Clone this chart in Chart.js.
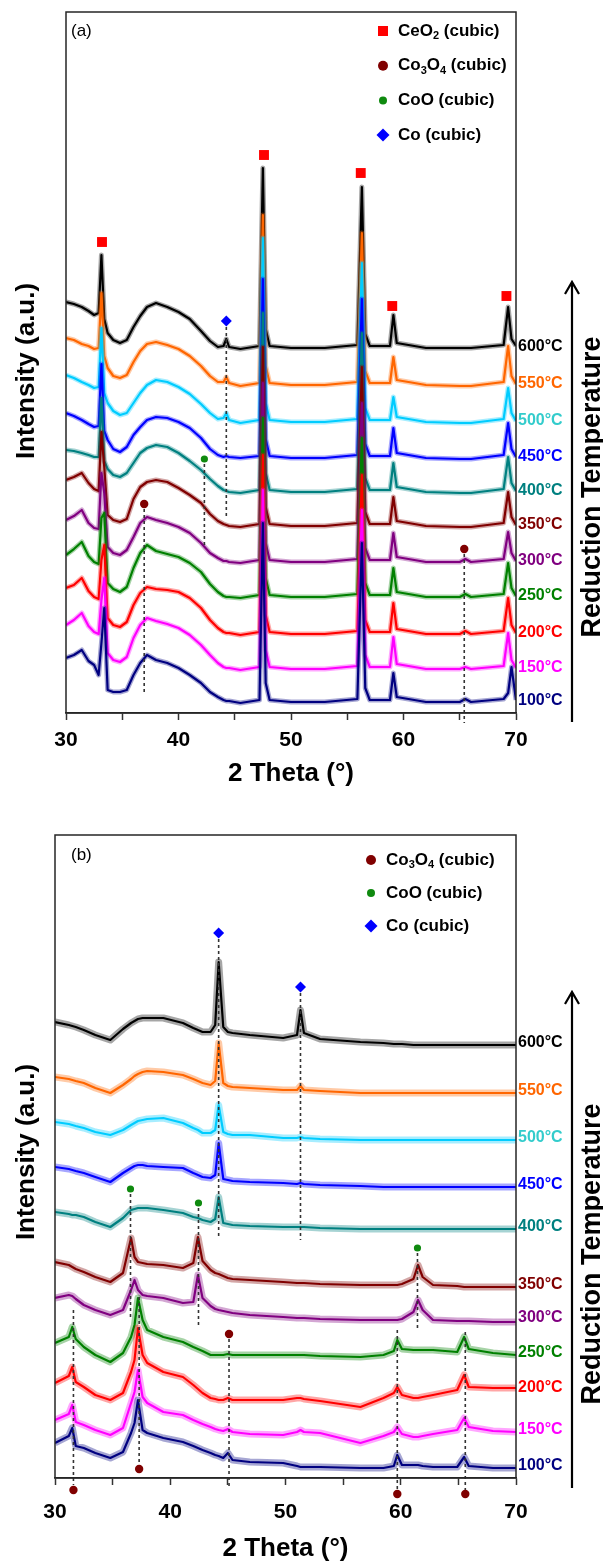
<!DOCTYPE html>
<html>
<head>
<meta charset="utf-8">
<script src="https://cdn.jsdelivr.net/npm/chart.js@4.4.1/dist/chart.umd.min.js"></script>
<style>
  html, body { margin: 0; padding: 0; background: #fff; }
  canvas { position: absolute; left: 0; }
</style>
</head>
<body>
<canvas id="chartA" width="603" height="790" style="top:0"></canvas>
<canvas id="chartB" width="603" height="771" style="top:790px"></canvas>
<script>
// 2 theta sampling for each panel
const thetaA = [30, 30.7, 31.4, 32, 32.5, 32.9, 33.15, 33.4, 33.7, 34.2, 34.8, 35.4, 36, 36.6, 37.2, 38, 39, 40, 41, 42, 42.8, 43.5, 44, 44.25, 44.5, 45.5,
                47.2, 47.5, 47.75, 48.1, 50, 53, 55.9, 56.3, 56.6, 57, 58.8, 59.1, 59.4, 62, 65, 65.5, 66, 68.9, 69.3, 69.6, 70];
const thetaB = [30, 31.2, 31.5, 31.8, 32.5, 33.5, 34.8, 35.9, 36.6, 36.9, 37.2, 37.6, 38, 39.4, 41.1, 42, 42.4, 42.8, 43.5, 43.9, 44.2, 44.6,
                45, 45.4, 46.9, 49.8, 51, 51.3, 51.6, 53, 56.5, 58.5, 59.4, 59.7, 60.1, 61.1, 61.5, 61.9, 62.8, 64.9, 65.5, 65.9, 68, 70];

const temps = ['600°C', '550°C', '500°C', '450°C', '400°C', '350°C', '300°C', '250°C', '200°C', '150°C', '100°C'];

// vertical stacking offsets (a.u.)
const offsetsA = [364, 327, 290, 254, 220, 186, 150, 115, 78, 43, 10];
const offsetsB = [433, 385, 338, 291, 249, 191, 158, 123, 88, 46, 10];

// panel (a) intensities above each offset
const a600 = [47, 45, 42, 38, 34, 36, 94, 30, 16, 9, 6, 9, 22, 33, 42, 46, 42, 37, 30, 18, 8, 2, 3, 10, 2, 0,
              3, 181, 20, 3, 1, 1, 4, 162, 15, 3, 3, 34, 6, 1, 1, 1, 1, 4, 42, 10, 3];
const a550 = [48, 46, 42, 40, 37, 38, 93, 30, 18, 10, 8, 11, 24, 35, 42, 44, 41, 37, 30, 20, 10, 4, 4, 9, 3, 0,
              3, 171, 20, 3, 1, 1, 4, 153, 15, 3, 3, 29, 6, 1, 0, 0, 0, 4, 40, 10, 2];
const a500 = [48, 45, 41, 38, 35, 36, 95, 30, 20, 12, 8, 10, 20, 30, 38, 43, 41, 36, 29, 19, 10, 4, 5, 10, 3, 0,
              3, 185, 20, 3, 1, 1, 4, 160, 15, 3, 3, 26, 6, 1, 0, 0, 0, 4, 35, 10, 2];
const a450 = [46, 43, 39, 35, 32, 33, 95, 28, 19, 10, 7, 12, 24, 32, 39, 42, 41, 37, 31, 21, 10, 4, 2, 3, 2, 1,
              3, 180, 20, 3, 1, 1, 4, 160, 15, 3, 3, 31, 6, 1, 0, 0, 0, 4, 36, 10, 2];
const a400 = [43, 42, 40, 38, 36, 36, 95, 32, 24, 18, 16, 20, 30, 40, 45, 48, 46, 40, 32, 23, 14, 7, 3, 2, 1, 0,
              3, 180, 20, 3, 1, 1, 4, 160, 15, 3, 3, 30, 6, 1, 0, 0, 0, 4, 36, 10, 2];
const a350 = [47, 50, 54, 44, 38, 36, 95, 60, 12, 7, 5, 8, 28, 40, 45, 47, 45, 39, 32, 24, 13, 6, 3, 2, 1, 0,
              3, 180, 20, 3, 1, 1, 4, 160, 15, 3, 3, 30, 6, 1, 0, 0, 0, 4, 35, 10, 2];
const a300 = [43, 47, 53, 40, 35, 34, 90, 70, 16, 10, 8, 13, 26, 40, 46, 43, 40, 36, 30, 20, 10, 5, 2, 2, 1, 0,
              3, 180, 20, 3, 1, 1, 4, 160, 15, 3, 3, 30, 6, 1, 1, 4, 1, 4, 31, 10, 2];
const a250 = [43, 49, 56, 42, 36, 34, 80, 85, 15, 9, 6, 11, 30, 45, 53, 47, 44, 41, 35, 26, 14, 6, 2, 1, 1, 0,
              3, 180, 20, 3, 1, 1, 4, 160, 15, 3, 3, 30, 6, 1, 1, 4, 1, 4, 35, 10, 2];
const a200 = [47, 50, 57, 44, 38, 36, 75, 90, 17, 10, 8, 13, 30, 42, 48, 46, 45, 43, 37, 27, 15, 7, 3, 2, 2, 0,
              3, 180, 20, 3, 1, 1, 4, 160, 15, 3, 3, 32, 6, 1, 1, 4, 1, 4, 37, 10, 2];
const a150 = [45, 50, 57, 44, 38, 36, 70, 92, 17, 10, 8, 13, 32, 45, 52, 49, 46, 42, 35, 25, 15, 7, 3, 2, 2, 0,
              3, 180, 20, 3, 1, 1, 4, 160, 15, 3, 3, 33, 6, 1, 1, 3, 1, 4, 37, 10, 2];
const a100 = [45, 48, 53, 42, 38, 28, 60, 95, 13, 11, 11, 13, 28, 40, 48, 43, 40, 35, 28, 20, 11, 6, 3, 2, 2, 0,
              3, 180, 20, 3, 1, 1, 4, 160, 15, 3, 3, 30, 6, 1, 1, 4, 1, 4, 10, 36, 3];

// panel (b) intensities above each offset
const b600 = [23, 20, 19, 18, 15, 10, 5, 16, 22, 24, 26, 27, 27, 27, 22, 17, 15, 13, 13, 20, 83, 18,
              13, 12, 10, 7, 10, 35, 12, 6, 3, 2, 1, 1, 1, 0, 0, 0, 0, 0, 0, 0, 0, 0];
const b550 = [16, 14, 13, 12, 10, 5, 0, 8, 14, 17, 19, 21, 22, 21, 18, 14, 12, 10, 8, 12, 50, 10,
              7, 6, 5, 3, 3, 7, 3, 2, 0, 0, 0, 0, 0, 0, 0, 0, 0, 0, 0, 0, 0, 0];
const b500 = [18, 16, 15, 14, 12, 8, 5, 10, 15, 17, 19, 20, 21, 22, 17, 12, 10, 7, 7, 10, 35, 8,
              6, 5, 5, 2, 2, 3, 2, 1, 0, 0, 0, 0, 0, 0, 0, 0, 0, 0, 0, 0, 0, 0];
const b450 = [20, 18, 17, 16, 14, 10, 5, 14, 19, 21, 22, 22, 21, 20, 19, 14, 12, 10, 9, 12, 44, 8,
              7, 6, 5, 4, 3, 4, 3, 2, 1, 0, 0, 0, 0, 0, 0, 0, 0, 0, 0, 0, 0, 0];
const b400 = [17, 15, 14, 14, 12, 7, 2, 11, 19, 20, 21, 21, 21, 19, 16, 12, 11, 9, 7, 10, 32, 6,
              5, 4, 3, 2, 2, 2, 2, 1, 0, 0, 0, 0, 0, 0, 0, 0, 0, 0, 0, 0, 0, 0];
const b350 = [25, 22, 20, 18, 15, 10, 5, 14, 49, 30, 25, 24, 23, 22, 19, 24, 50, 26, 17, 14, 13, 11,
              9, 8, 7, 5, 4, 4, 4, 3, 2, 2, 2, 2, 3, 8, 22, 10, 2, 1, 0, 0, 0, 0];
const b300 = [22, 25, 24, 21, 15, 10, 5, 10, 30, 40, 30, 25, 24, 22, 17, 18, 45, 22, 14, 11, 10, 9,
              8, 7, 5, 3, 2, 2, 2, 1, 0, 0, 0, 0, 1, 8, 20, 10, 0, -1, -1, -1, -2, -2];
const b250 = [12, 18, 28, 16, 8, 0, -7, 2, 18, 30, 57, 35, 25, 18, 13, 8, 6, 4, 0, 0, 0, 0,
              1, 0, 0, 0, 0, 0, 0, -1, -2, 0, 4, 15, 6, 5, 5, 5, 5, 3, 18, 6, 2, 0];
const b200 = [7, 14, 23, 8, 3, -5, -10, -3, 18, 30, 62, 35, 27, 18, 13, 5, 1, -3, -8, -9, -10, -10,
              -8, -10, -10, -10, -8, -8, -9, -11, -17, -8, -3, 3, -5, -8, -8, -7, -5, 0, 15, 3, 2, 2];
const b150 = [12, 18, 27, 10, 7, 2, -3, 4, 29, 40, 62, 35, 29, 20, 17, 12, 10, 8, 5, 3, 2, 1,
              3, 0, -2, -3, 0, 2, 0, -1, -11, -4, 0, 5, -2, -5, -5, -4, -2, 2, 14, 5, 1, 0];
const b100 = [25, 32, 40, 22, 20, 15, 10, 16, 35, 45, 68, 38, 35, 30, 26, 22, 20, 18, 15, 13, 12, 10,
              15, 8, 6, 5, 2, 1, 1, 1, 0, 0, 2, 13, 3, 3, 3, 2, 1, 1, 11, 2, 0, 0];

// phase markers
const ceo2A = [{x: 33.2, y: 471}, {x: 47.6, y: 558}, {x: 56.2, y: 540}, {x: 59.0, y: 407}, {x: 69.15, y: 417}];
const coA = [{x: 44.25, y: 392}];
const cooA = [{x: 42.3, y: 254}];
const co3o4A = [{x: 36.95, y: 209}, {x: 65.4, y: 164}];
const coB = [{x: 44.2, y: 545}, {x: 51.3, y: 491}];
const cooB = [{x: 36.55, y: 289}, {x: 42.45, y: 275}, {x: 61.45, y: 230}];
const co3o4B = [{x: 45.1, y: 144}, {x: 37.3, y: 9}, {x: 31.6, y: -12}, {x: 59.7, y: -16}, {x: 65.6, y: -16}];

// reference lines: [2theta, from, to]
const guidesA = [[44.25, 386, 195], [42.3, 249, 166], [36.95, 204, 18], [65.4, 159, -10]];
const guidesB = [[44.2, 539, 241], [51.3, 485, 238], [36.55, 284, 160], [42.45, 270, 151], [61.45, 225, 148],
                 [31.6, 168, -7], [37.3, 181, 15], [45.1, 139, -10], [59.7, 148, -12], [65.6, 146, -12]];

const tracesA = [a600, a550, a500, a450, a400, a350, a300, a250, a200, a150, a100];
const tracesB = [b600, b550, b500, b450, b400, b350, b300, b250, b200, b150, b100];

const LINE_COLORS = ['#000000', '#ff6600', '#00ccff', '#0000ff', '#008080', '#800000', '#800080', '#008000', '#ff0000', '#ff00ff', '#000080'];
const LABEL_COLORS = ['#000000', '#ff6600', '#33cccc', '#0000ff', '#008080', '#800000', '#800080', '#008000', '#ff0000', '#ff00ff', '#000080'];
const FONT = '"Liberation Sans", Arial, sans-serif';

const CERIA = { label: 'CeO', sub: '2', rest: ' (cubic)', style: 'rect', color: '#ff0000', r: 5 };
const SPINEL = { label: 'Co', sub: '3', mid: 'O', sub2: '4', rest: ' (cubic)', style: 'circle', color: '#800000', r: 5 };
const MONOX = { label: 'CoO', rest: ' (cubic)', style: 'circle', color: '#0f8a0f', r: 4 };
const METAL = { label: 'Co', rest: ' (cubic)', style: 'diamond', color: '#0000ff', r: 6.5 };

function withAlpha(hex, a) {
    const n = parseInt(hex.slice(1), 16);
    return `rgba(${n >> 16}, ${(n >> 8) & 255}, ${n & 255}, ${a})`;
}

function buildDatasets(theta, traces, offsets, markers, guides, band) {
    const sets = [];
    guides.forEach(g => sets.push({
        type: 'line',
        data: [{x: g[0], y: g[1]}, {x: g[0], y: g[2]}],
        borderColor: '#333',
        borderWidth: 1.6,
        borderDash: [3, 3],
        pointRadius: 0,
        clip: false
    }));
    markers.forEach(m => sets.push({
        type: 'scatter',
        data: m.data,
        pointStyle: m.style,
        pointRadius: m.r,
        backgroundColor: m.color,
        borderColor: m.color,
        borderWidth: 0,
        clip: false
    }));
    // lowest temperature drawn on top; each trace = solid core over a soft noise band
    for (let i = traces.length - 1; i >= 0; i--) {
        const pts = theta.map((t, k) => ({x: t, y: offsets[i] + traces[i][k]}));
        sets.push({
            type: 'line',
            data: pts,
            borderColor: LINE_COLORS[i],
            borderWidth: 2.2,
            pointRadius: 0,
            tension: 0,
            borderJoinStyle: 'round'
        });
        sets.push({
            type: 'line',
            data: pts,
            borderColor: withAlpha(LINE_COLORS[i], 0.35),
            borderWidth: band,
            pointRadius: 0,
            tension: 0,
            borderJoinStyle: 'round'
        });
    }
    return sets;
}

function drawMarker(ctx, style, x, y, r, color) {
    ctx.fillStyle = color;
    ctx.beginPath();
    if (style === 'rect') {
        ctx.rect(x - r, y - r, 2 * r, 2 * r);
    } else if (style === 'diamond') {
        ctx.moveTo(x - r, y); ctx.lineTo(x, y - r); ctx.lineTo(x + r, y); ctx.lineTo(x, y + r); ctx.closePath();
    } else {
        ctx.arc(x, y, r, 0, Math.PI * 2);
    }
    ctx.fill();
}

function drawLegendText(ctx, item, x, y) {
    const big = 'bold 17px ' + FONT, small = 'bold 11px ' + FONT;
    const pieces = [[item.label, false]];
    if (item.sub) pieces.push([item.sub, true]);
    if (item.mid) pieces.push([item.mid, false]);
    if (item.sub2) pieces.push([item.sub2, true]);
    pieces.push([item.rest, false]);
    ctx.fillStyle = '#000';
    ctx.textAlign = 'left';
    ctx.textBaseline = 'middle';
    pieces.forEach(([txt, isSub]) => {
        ctx.font = isSub ? small : big;
        ctx.fillText(txt, x, isSub ? y + 5 : y);
        x += ctx.measureText(txt).width;
    });
}

function decorations(p) {
    return {
        id: 'decor' + p.tag.replace(/\W/g, ''),
        afterDraw(chart) {
            const {ctx, chartArea: a, scales: {x, y}} = chart;
            ctx.save();
            ctx.strokeStyle = '#262626';
            ctx.lineWidth = 1.5;
            ctx.strokeRect(a.left, a.top, a.right - a.left, a.bottom - a.top);

            // markers that sit under the axis are skipped by Chart.js, place them on the same scales
            chart.data.datasets.forEach(ds => {
                if (ds.type !== 'scatter') return;
                ds.data.forEach(pt => {
                    if (pt.y >= y.min) return;
                    drawMarker(ctx, 'circle', x.getPixelForValue(pt.x), y.getPixelForValue(pt.y), ds.pointRadius, ds.backgroundColor);
                });
            });

            ctx.fillStyle = '#000';
            ctx.font = '17px ' + FONT;
            ctx.textAlign = 'left';
            ctx.textBaseline = 'middle';
            ctx.fillText(p.tag, 71, p.tagY);

            ctx.font = 'bold 16px ' + FONT;
            p.offsets.forEach((off, i) => {
                ctx.fillStyle = LABEL_COLORS[i];
                ctx.fillText(temps[i], a.right + 2, y.getPixelForValue(off + 2));
            });

            p.legend.forEach((item, i) => {
                const ly = p.legendY + i * p.legendGap;
                drawMarker(ctx, item.style, p.legendX, ly, item.r, item.color);
                drawLegendText(ctx, item, p.legendX + 15, ly);
            });

            // rising temperature arrow
            ctx.strokeStyle = '#000';
            ctx.lineWidth = 2.2;
            ctx.beginPath();
            ctx.moveTo(572, p.arrowBottom);
            ctx.lineTo(572, p.arrowTop);
            ctx.moveTo(565, p.arrowTop + 12);
            ctx.lineTo(572, p.arrowTop);
            ctx.lineTo(579, p.arrowTop + 12);
            ctx.stroke();

            ctx.fillStyle = '#000';
            ctx.textAlign = 'center';
            ctx.font = 'bold 27px ' + FONT;
            ctx.save();
            ctx.translate(593, p.reductionY);
            ctx.rotate(-Math.PI / 2);
            ctx.fillText('Reduction Temperature', 0, 0);
            ctx.restore();

            ctx.font = 'bold 26px ' + FONT;
            ctx.save();
            ctx.translate(27, p.intensityY);
            ctx.rotate(-Math.PI / 2);
            ctx.fillText('Intensity (a.u.)', 0, 0);
            ctx.restore();
            ctx.restore();
        }
    };
}

function makeChart(canvasId, cfg) {
    return new Chart(document.getElementById(canvasId), {
        type: 'line',
        data: {
            datasets: buildDatasets(cfg.theta, cfg.traces, cfg.offsets, cfg.markers, cfg.guides, cfg.band)
        },
        options: {
            responsive: false,
            animation: false,
            layout: { padding: cfg.padding },
            plugins: {
                legend: { display: false },
                tooltip: { enabled: false }
            },
            scales: {
                x: {
                    type: 'linear',
                    min: 30,
                    max: 70,
                    afterFit: scale => { scale.height = cfg.axisHeight; },
                    ticks: {
                        stepSize: 5,
                        autoSkip: false,
                        maxRotation: 0,
                        padding: cfg.tickPad,
                        color: '#000',
                        font: { family: FONT, size: 21, weight: 'bold' },
                        callback: v => (v % 10 === 0 ? v : '')
                    },
                    grid: {
                        drawOnChartArea: false,
                        drawTicks: true,
                        tickLength: 7,
                        tickColor: '#333',
                        tickWidth: 1.5
                    },
                    border: { display: true, color: '#262626', width: 1.5 },
                    title: {
                        display: true,
                        text: '2 Theta (°)',
                        color: '#000',
                        font: { family: FONT, size: 26, weight: 'bold' },
                        padding: { top: 0, bottom: cfg.titlePad }
                    }
                },
                y: {
                    display: false,
                    min: 0,
                    max: cfg.yMax
                }
            }
        },
        plugins: [decorations(cfg.decor)]
    });
}

makeChart('chartA', {
    theta: thetaA,
    traces: tracesA,
    offsets: offsetsA,
    band: 5,
    markers: [
        {data: ceo2A, style: 'rect', r: 7, color: '#ff0000'},
        {data: coA, style: 'rectRot', r: 5.5, color: '#0000ff'},
        {data: cooA, style: 'circle', r: 3.6, color: '#0f8a0f'},
        {data: co3o4A, style: 'circle', r: 4.2, color: '#800000'}
    ],
    guides: guidesA,
    padding: {left: 66, right: 87, top: 12, bottom: 0},
    axisHeight: 77,
    tickPad: 8,
    titlePad: 1,
    yMax: 701,
    decor: {
        tag: '(a)', tagY: 31, offsets: offsetsA,
        legend: [CERIA, SPINEL, MONOX, METAL], legendX: 383, legendY: 31, legendGap: 34.7,
        arrowTop: 282, arrowBottom: 722, reductionY: 487, intensityY: 371
    }
});

makeChart('chartB', {
    theta: thetaB,
    traces: tracesB,
    offsets: offsetsB,
    band: 7,
    markers: [
        {data: coB, style: 'rectRot', r: 5.5, color: '#0000ff'},
        {data: cooB, style: 'circle', r: 3.6, color: '#0f8a0f'},
        {data: co3o4B, style: 'circle', r: 4.2, color: '#800000'}
    ],
    guides: guidesB,
    padding: {left: 55, right: 87, top: 45, bottom: 0},
    axisHeight: 83,
    tickPad: 15,
    titlePad: -3,
    yMax: 643,
    decor: {
        tag: '(b)', tagY: 65, offsets: offsetsB,
        legend: [SPINEL, MONOX, METAL], legendX: 371, legendY: 70, legendGap: 33,
        arrowTop: 202, arrowBottom: 698, reductionY: 464, intensityY: 362
    }
});
</script>
</body>
</html>
